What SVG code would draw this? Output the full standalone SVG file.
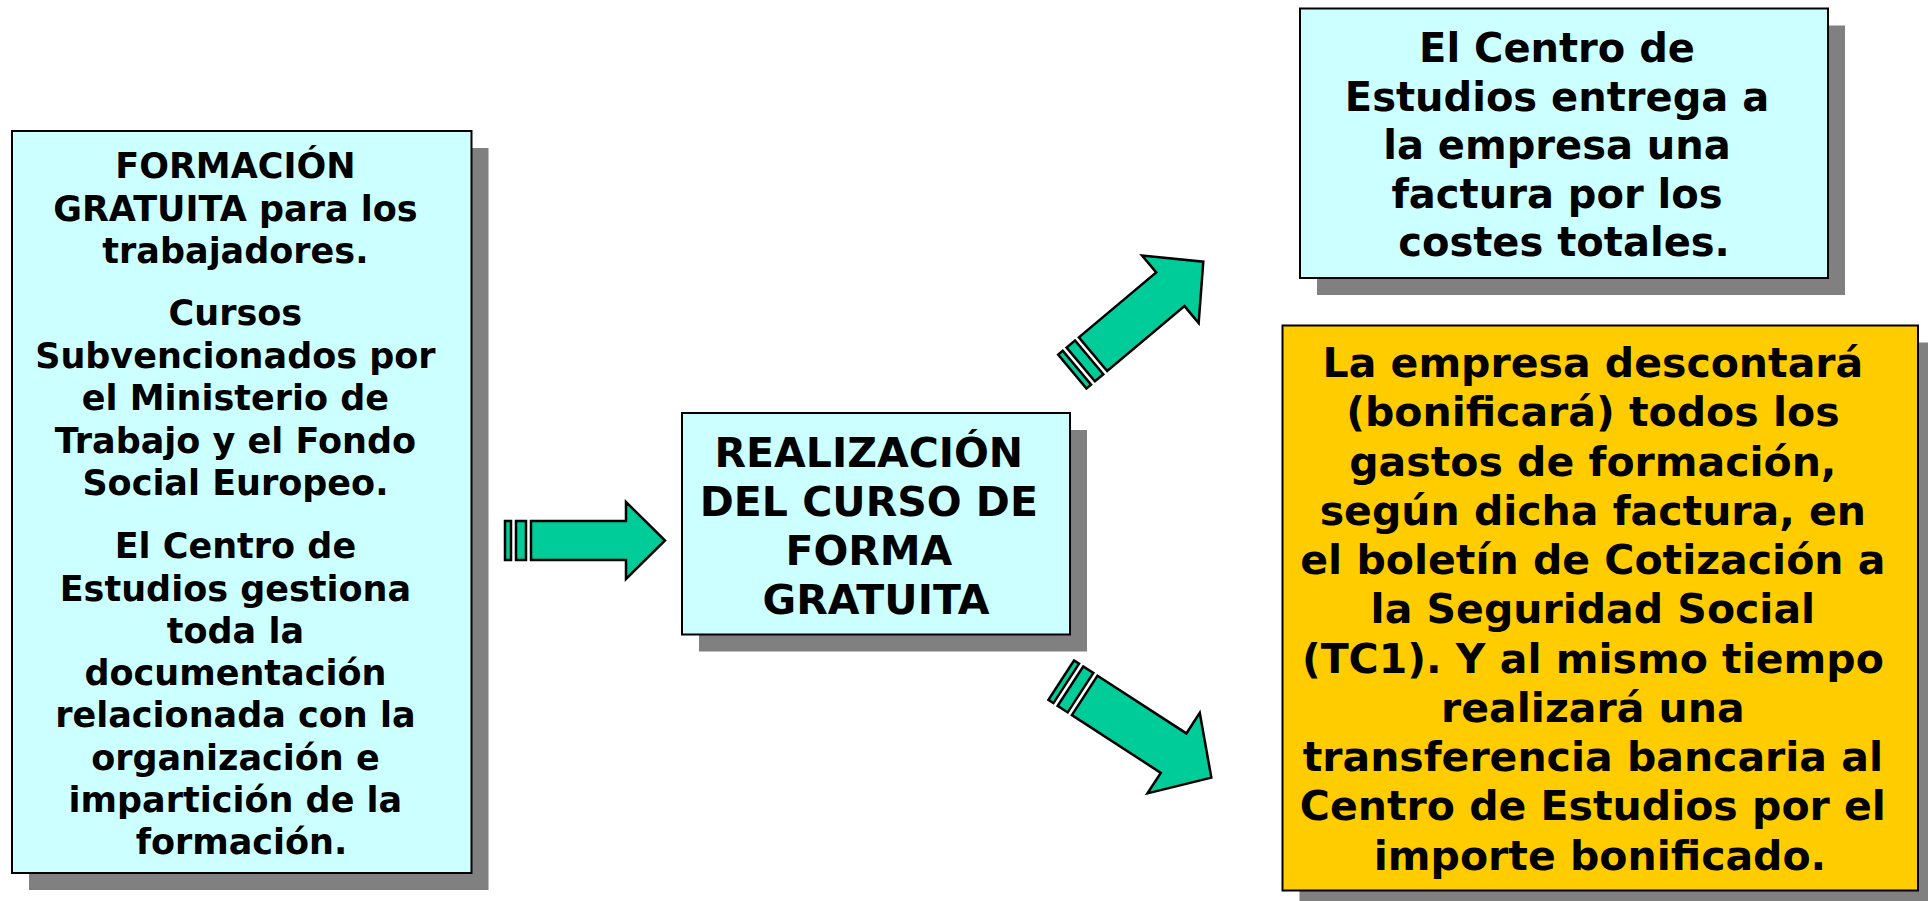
<svg xmlns="http://www.w3.org/2000/svg" width="1928" height="901" viewBox="0 0 1928 901">
<style>
.bg{fill:#ffffff}
.shadow{fill:#808080}
.cyan{fill:#ccffff;stroke:#000;stroke-width:2}
.gold{fill:#ffcc00;stroke:#000;stroke-width:2}
.t{font-family:"DejaVu Sans","Verdana",sans-serif;font-weight:bold;fill:#000;text-anchor:middle}
.arr{fill:#00cc99;stroke:#000;stroke-width:2.5;stroke-linejoin:miter}
</style>
<rect class="bg" x="0" y="0" width="1928" height="901"/>

<g id="node-left">
<rect class="shadow" x="29" y="148" width="459.5" height="742"/>
<rect class="cyan" x="12" y="131" width="459.5" height="742"/>
<text class="t" font-size="35">
<tspan x="241.5" y="178">FORMACIÓN</tspan>
<tspan x="241.5" y="220.5">GRATUITA para los</tspan>
<tspan x="241.5" y="263">trabajadores.</tspan>
<tspan x="241.5" y="325">Cursos</tspan>
<tspan x="241.5" y="367.5">Subvencionados por</tspan>
<tspan x="241.5" y="410">el Ministerio de</tspan>
<tspan x="241.5" y="452.5">Trabajo y el Fondo</tspan>
<tspan x="241.5" y="495">Social Europeo.</tspan>
<tspan x="241.5" y="558.3">El Centro de</tspan>
<tspan x="241.5" y="600.5">Estudios gestiona</tspan>
<tspan x="241.5" y="642.8">toda la</tspan>
<tspan x="241.5" y="685">documentación</tspan>
<tspan x="241.5" y="727.3">relacionada con la</tspan>
<tspan x="241.5" y="769.5">organización e</tspan>
<tspan x="241.5" y="811.8">impartición de la</tspan>
<tspan x="241.5" y="854">formación.</tspan>
</text>
</g>

<g id="node-middle">
<rect class="shadow" x="699" y="430" width="388" height="221.5"/>
<rect class="cyan" x="682" y="413" width="388" height="221.5"/>
<text class="t" font-size="41">
<tspan x="876" y="467">REALIZACIÓN</tspan>
<tspan x="876" y="516">DEL CURSO DE</tspan>
<tspan x="876" y="565">FORMA</tspan>
<tspan x="876" y="613.5">GRATUITA</tspan>
</text>
</g>

<g id="node-top-right">
<rect class="shadow" x="1317" y="25.5" width="528" height="269.5"/>
<rect class="cyan" x="1300" y="8.5" width="528" height="269.5"/>
<text class="t" font-size="40">
<tspan x="1564" y="62">El Centro de</tspan>
<tspan x="1564" y="110.6">Estudios entrega a</tspan>
<tspan x="1564" y="159.2">la empresa una</tspan>
<tspan x="1564" y="207.8">factura por los</tspan>
<tspan x="1564" y="256.4">costes totales.</tspan>
</text>
</g>

<g id="node-bottom-right">
<rect class="shadow" x="1299.5" y="342.5" width="635.5" height="565"/>
<rect class="gold" x="1282.5" y="325.5" width="635.5" height="565"/>
<text class="t" font-size="41">
<tspan x="1600" y="377">La empresa descontará</tspan>
<tspan x="1600" y="426.25">(bonificará) todos los</tspan>
<tspan x="1600" y="475.5">gastos de formación,</tspan>
<tspan x="1600" y="524.75">según dicha factura, en</tspan>
<tspan x="1600" y="574">el boletín de Cotización a</tspan>
<tspan x="1600" y="623.25">la Seguridad Social</tspan>
<tspan x="1600" y="672.5">(TC1). Y al mismo tiempo</tspan>
<tspan x="1600" y="721.75">realizará una</tspan>
<tspan x="1600" y="771">transferencia bancaria al</tspan>
<tspan x="1600" y="820.25">Centro de Estudios por el</tspan>
<tspan x="1600" y="869.5">importe bonificado.</tspan>
</text>
</g>

<g id="connectors">
<g id="arrow-left" transform="translate(531,540.5)">
<rect class="arr" x="-26" y="-19.5" width="6" height="39"/>
<rect class="arr" x="-15" y="-19.5" width="10" height="39"/>
<polygon class="arr" points="0,-19.5 95,-19.5 95,-38.5 134,0 95,38.5 95,19.5 0,19.5"/>
</g>
<g id="arrow-up" transform="translate(1093,354.2) rotate(-40)">
<rect class="arr" x="-27" y="-22" width="6" height="44"/>
<rect class="arr" x="-16" y="-22" width="11" height="44"/>
<polygon class="arr" points="0,-22 101,-22 101,-44 144,0 101,44 101,22 0,22"/>
</g>
<g id="arrow-down" transform="translate(1084.7,695.4) rotate(33)">
<rect class="arr" x="-28" y="-23.5" width="6" height="47"/>
<rect class="arr" x="-17" y="-23.5" width="12" height="47"/>
<polygon class="arr" points="0,-23.5 106,-23.5 106,-48 151,0 106,48 106,23.5 0,23.5"/>
</g>
</g>
</svg>
